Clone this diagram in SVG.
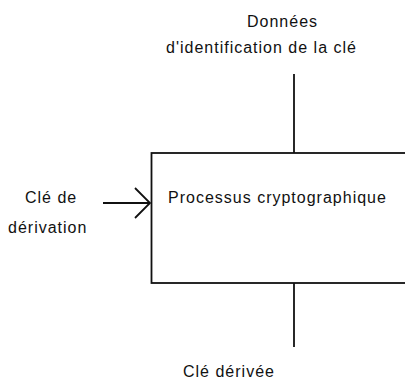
<svg xmlns="http://www.w3.org/2000/svg" width="405" height="381" viewBox="0 0 405 381">
<style>
.ln{stroke:#111;stroke-width:1.8;fill:none}
.t{font-family:"Liberation Sans",Arial,sans-serif;font-size:16px;letter-spacing:1px;fill:#111}
</style>
<rect width="405" height="381" fill="#fff"/>
<g id="process">
<rect class="ln" x="151.5" y="153" width="270" height="130"/>
<text class="t" x="168" y="203">Processus cryptographique</text>
</g>
<g id="key-id-data">
<text class="t" x="247" y="27">Données</text>
<text class="t" x="166" y="53">d'identification de la clé</text>
</g>
<g id="derivation-key">
<text class="t" x="25" y="203">Clé de</text>
<text class="t" x="8" y="233">dérivation</text>
</g>
<g id="derived-key">
<text class="t" x="183" y="377">Clé dérivée</text>
</g>
<g id="connectors">
<line class="ln" x1="294" y1="74" x2="294" y2="153"/>
<line class="ln" x1="294" y1="283" x2="294" y2="347"/>
<line class="ln" x1="103" y1="203" x2="150" y2="203"/>
<polyline class="ln" points="135,188 150,203 135,218"/>
</g>
</svg>
